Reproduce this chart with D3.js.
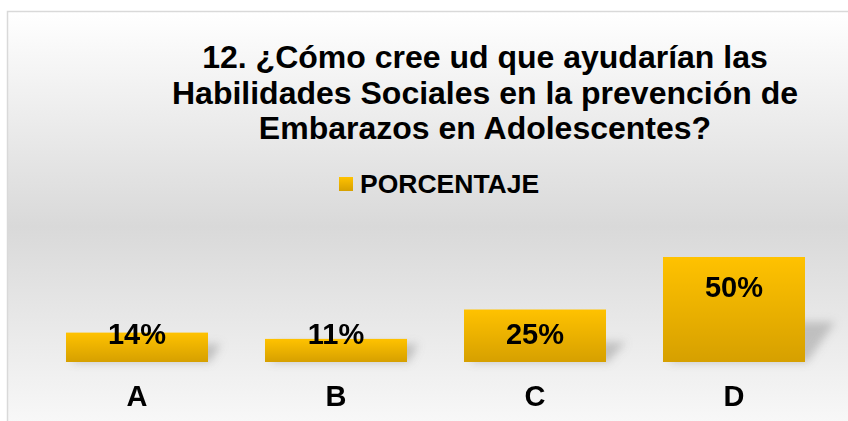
<!DOCTYPE html>
<html>
<head>
<meta charset="utf-8">
<script src="https://cdn.jsdelivr.net/npm/d3@7/dist/d3.min.js"></script>
<style>
  html, body { margin: 0; padding: 0; background: #ffffff; }
  svg { display: block; }
  text { font-family: "Liberation Sans", Arial, sans-serif; font-weight: bold; fill: #000; }
</style>
</head>
<body>
<svg id="chart" width="848" height="421"></svg>
<script>
// Survey answers for question 12
const categories = ["A", "B", "C", "D"];
const porcentaje = [0.14, 0.11, 0.25, 0.50];
const valueLabels = ["14%", "11%", "25%", "50%"];
const seriesName = "PORCENTAJE";
const titleLines = [
  "12. ¿Cómo cree ud que ayudarían las",
  "Habilidades Sociales en la prevención de",
  "Embarazos en Adolescentes?"
];

const W = 848, H = 421;
const svg = d3.select("#chart");
const defs = svg.append("defs");

// chart area background: white -> grey -> near white
const bg = defs.append("linearGradient").attr("id", "bgGrad")
  .attr("x1", 0).attr("y1", 0).attr("x2", 0).attr("y2", 1);
bg.append("stop").attr("offset", "0%").attr("stop-color", "#ffffff");
bg.append("stop").attr("offset", "50%").attr("stop-color", "#d9d9d9");
bg.append("stop").attr("offset", "100%").attr("stop-color", "#fbfbfb");

// bar fill: bright gold on top, deeper gold at the base
const barGrad = defs.append("linearGradient").attr("id", "barGrad")
  .attr("x1", 0).attr("y1", 0).attr("x2", 0).attr("y2", 1);
barGrad.append("stop").attr("offset", "0%").attr("stop-color", "#ffc200");
barGrad.append("stop").attr("offset", "100%").attr("stop-color", "#d6a000");

const blur = defs.append("filter").attr("id", "shadowBlur")
  .attr("x", "-50%").attr("y", "-50%").attr("width", "200%").attr("height", "200%");
blur.append("feGaussianBlur").attr("stdDeviation", 4.5);

// frame
svg.append("rect")
  .attr("x", 7.5).attr("y", 11.5)
  .attr("width", W + 10).attr("height", H + 10)
  .attr("fill", "url(#bgGrad)")
  .attr("stroke", "#d9d9d9").attr("stroke-width", 1.5);

// title
const title = svg.append("text")
  .attr("text-anchor", "middle")
  .style("font-size", "32px");
titleLines.forEach((t, i) => {
  title.append("tspan").attr("x", 485).attr("y", 68 + i * 35.5).text(t);
});

// legend
const legend = svg.append("g").attr("transform", "translate(339,177)");
legend.append("rect").attr("width", 14).attr("height", 14).attr("fill", "url(#barGrad)");
legend.append("text").attr("x", 21).attr("y", 15.5)
  .style("font-size", "26.5px").text(seriesName);

// scales
const x = d3.scaleBand()
  .domain(categories)
  .range([37.5, 833.5])
  .paddingInner(0.2864)
  .paddingOuter(0.1432);

const y = d3.scaleLinear()
  .domain([0, 0.6])
  .range([362, 236]);

const data = categories.map((c, i) => ({ cat: c, v: porcentaje[i], label: valueLabels[i] }));

// soft perspective shadows behind bars
svg.append("g").attr("filter", "url(#shadowBlur)")
  .selectAll("path").data(data).join("path")
  .attr("d", d => {
    const x0 = x(d.cat), x1 = x0 + x.bandwidth();
    const y0 = y(0);
    const h = y0 - y(d.v);
    const sh = Math.max(h * 0.38, 18);
    const dx = Math.min(h * 0.3, 26) + 4;
    return `M${x0 + 6},${y0} L${x1 + 2},${y0} L${x1 + dx},${y0 - sh} L${x0 + dx},${y0 - sh} Z`;
  })
  .attr("fill", "#8c8c8c")
  .attr("opacity", 0.45);

// bars
svg.append("g").selectAll("rect").data(data).join("rect")
  .attr("x", d => x(d.cat))
  .attr("y", d => y(d.v))
  .attr("width", x.bandwidth())
  .attr("height", d => y(0) - y(d.v))
  .attr("fill", "url(#barGrad)");

// value labels: inside end, kept above the base
svg.append("g").selectAll("text").data(data).join("text")
  .attr("x", d => x(d.cat) + x.bandwidth() / 2)
  .attr("y", d => Math.min(y(d.v) + 40, y(0) - 18))
  .attr("text-anchor", "middle")
  .style("font-size", "29px")
  .text(d => d.label);

// category axis (no line, no ticks)
const xAxis = svg.append("g")
  .attr("transform", `translate(0,${y(0)})`)
  .call(d3.axisBottom(x).tickSize(0).tickPadding(0));
xAxis.select(".domain").remove();
xAxis.selectAll("text")
  .attr("y", 44)
  .attr("dy", null)
  .style("font-size", "29px")
  .style("font-family", "'Liberation Sans', Arial, sans-serif")
  .style("font-weight", "bold")
  .attr("fill", "#000");
</script>
</body>
</html>
